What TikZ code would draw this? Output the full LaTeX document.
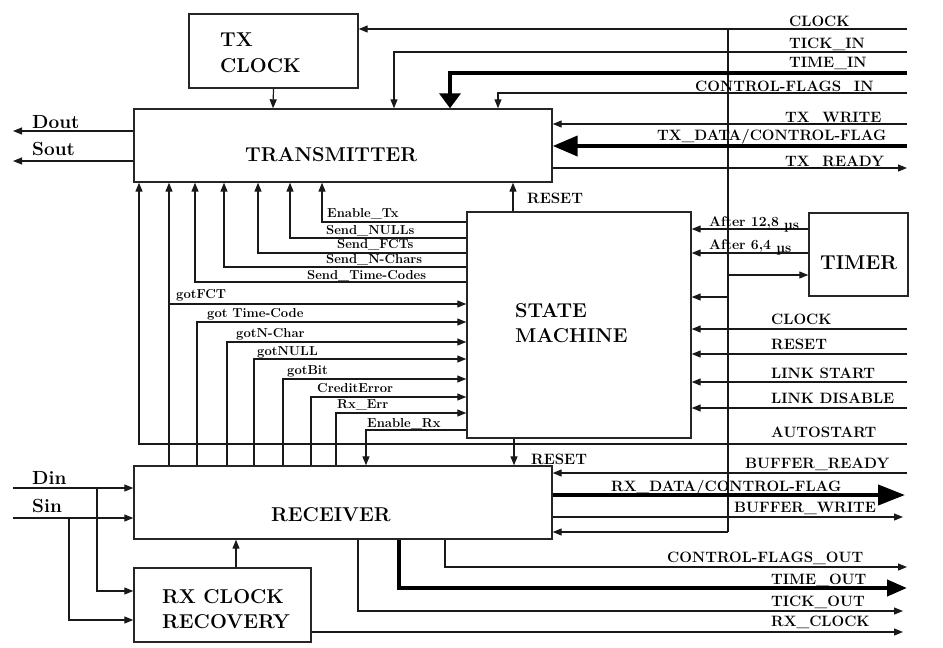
\documentclass[tikz,border=0pt]{standalone}
\usepackage{fontspec}
\usetikzlibrary{arrows.meta}
\begin{document}
\begin{tikzpicture}[x=1pt,y=-1pt,
 box/.style={draw=black!85,line width=1.4pt,inner sep=0pt},
 ln/.style={line width=1.2pt,draw=black!90},
 arr/.style={ln,-{Triangle[length=9pt,width=7pt]}},
 thk/.style={line width=4pt,draw=black,-{Triangle[length=#1]}},
 thk/.default={20pt,width=20pt},
 bigt/.style={font=\fontsize{20}{22}\selectfont\bfseries,anchor=base west,inner sep=0pt},
 sig/.style={font=\fontsize{15}{17}\selectfont\bfseries,anchor=base west,inner sep=0pt},
 sml/.style={font=\fontsize{13}{15}\selectfont\bfseries,anchor=base west,inner sep=0pt},
 tmr/.style={font=\fontsize{14}{16}\selectfont\bfseries,anchor=base west,inner sep=0pt},
 iol/.style={font=\fontsize{19}{21}\selectfont\bfseries,anchor=base west,inner sep=0pt},
]
\useasboundingbox[fill=white] (0,0) rectangle (943,648);

% boxes
\node[box,minimum width=169pt,minimum height=74pt] (txclk) at (273.5,51) {};
\node[box,minimum width=418pt,minimum height=73pt] (tx) at (343,145.5) {};
\node[box,minimum width=224pt,minimum height=226pt] (sm) at (579,325) {};
\node[box,minimum width=99pt,minimum height=83pt] (timer) at (858.5,254.5) {};
\node[box,minimum width=418pt,minimum height=73pt] (rx) at (343,502.5) {};
\node[box,minimum width=177pt,minimum height=74pt] (rxclk) at (222.5,605) {};

% box texts
\node[bigt] (tTX) at (220,46) {TX};
\node[bigt] (tTXC) at (220,72) {CLOCK};
\node[bigt] (tTR) at (245,161) {TRANSMITTER};
\node[bigt] (tST) at (515,317) {STATE};
\node[bigt] (tMA) at (515,342) {MACHINE};
\node[bigt] (tTI) at (820,269) {TIMER};
\node[bigt] (tRE) at (271,521) {RECEIVER};
\node[bigt] (tRX1) at (162,603) {RX CLOCK};
\node[bigt] (tRX2) at (162,628) {RECOVERY};

% free ends
\coordinate (clkR) at (907,29);
\coordinate (clkJ) at (728,29);
\coordinate (clkB) at (728,532);
\coordinate (tickR) at (907,52);
\coordinate (timeR) at (907,73);
\coordinate (cfR) at (907,93);
\coordinate (twR) at (907,124);
\coordinate (tdR) at (907,146);
\coordinate (trR) at (907,168);
\coordinate (doutL) at (13,131);
\coordinate (soutL) at (13,161);
\coordinate (autoR) at (907,444);
\coordinate (smclkR) at (907,329);
\coordinate (smrstR) at (907,354);
\coordinate (lsR) at (907,382);
\coordinate (ldR) at (907,408);
\coordinate (brR) at (907,473);
\coordinate (rdR) at (905,495);
\coordinate (bwR) at (903,517);
\coordinate (dinL) at (13,488);
\coordinate (sinL) at (13,518);
\coordinate (cfoR) at (907,567);
\coordinate (toR) at (907,588);
\coordinate (tkoR) at (903,611);
\coordinate (rxcR) at (903,632);

% top inputs
\draw[arr] (clkR) -- (clkR -| txclk.east);
\draw[ln] (clkJ) -- (clkB);
\draw[arr] (728,275) -- (728,275 -| timer.west);
\draw[arr] (728,297) -- (728,297 -| sm.east);
\draw[arr] (clkB) -- (clkB -| rx.east);
\draw[arr] (tickR) -- (394,52) -- (394,0 |- tx.north);
\draw[thk={15pt,width=21pt}] (timeR) -- (450,73) -- (450,0 |- tx.north);
\draw[arr] (cfR) -- (498,93) -- (498,0 |- tx.north);
\draw[arr] (twR) -- (twR -| tx.east);
\draw[thk={25pt,width=20pt}] (tdR) -- (tdR -| tx.east);
\draw[arr] (trR -| tx.east) -- (trR);
\draw[arr] (txclk.south) -- (273,0 |- tx.north);

% outputs left
\draw[arr] (doutL -| tx.west) -- (doutL);
\draw[arr] (soutL -| tx.west) -- (soutL);
\node[iol] (lDout) at (32,128) {Dout};
\node[iol] (lSout) at (32,155) {Sout};

% transmitter bottom
\draw[arr] (autoR) -- (139,444) -- (139,0 |- tx.south);
\draw[arr] (169,0 |- rx.north) -- (169,0 |- tx.south);
\draw[arr] (169,304) -- (169,304 -| sm.west);
\draw[arr] (sm.west |- 0,282) -- (195,282) -- (195,0 |- tx.south);
\draw[arr] (sm.west |- 0,267) -- (224,267) -- (224,0 |- tx.south);
\draw[arr] (sm.west |- 0,253) -- (258,253) -- (258,0 |- tx.south);
\draw[arr] (sm.west |- 0,238) -- (290,238) -- (290,0 |- tx.south);
\draw[arr] (sm.west |- 0,222) -- (322,222) -- (322,0 |- tx.south);
\draw[arr] (513,0 |- sm.north) -- (513,0 |- tx.south);

% receiver to state machine
\draw[arr] (197,0 |- rx.north) -- (197,322) -- (197,322 -| sm.west);
\draw[arr] (227,0 |- rx.north) -- (227,342) -- (227,342 -| sm.west);
\draw[arr] (254,0 |- rx.north) -- (254,359) -- (254,359 -| sm.west);
\draw[arr] (283,0 |- rx.north) -- (283,379) -- (283,379 -| sm.west);
\draw[arr] (311,0 |- rx.north) -- (311,397) -- (311,397 -| sm.west);
\draw[arr] (336,0 |- rx.north) -- (336,413) -- (336,413 -| sm.west);
\draw[arr] (sm.west |- 0,430) -- (366,430) -- (366,0 |- rx.north);
\draw[arr] (514,0 |- sm.south) -- (514,0 |- rx.north);

% timer
\draw[arr] (timer.west |- 0,229) -- (sm.east |- 0,229);
\draw[arr] (timer.west |- 0,253) -- (sm.east |- 0,253);

% state machine right inputs
\draw[arr] (smclkR) -- (smclkR -| sm.east);
\draw[arr] (smrstR) -- (smrstR -| sm.east);
\draw[arr] (lsR) -- (lsR -| sm.east);
\draw[arr] (ldR) -- (ldR -| sm.east);

% receiver right
\draw[arr] (brR) -- (brR -| rx.east);
\draw[thk={27pt,width=20pt}] (rdR -| rx.east) -- (rdR);
\draw[arr] (bwR -| rx.east) -- (bwR);

% receiver inputs
\draw[arr] (dinL) -- (dinL -| rx.west);
\draw[arr] (sinL) -- (sinL -| rx.west);
\draw[arr] (97,488) -- (97,591) -- (97,591 -| rxclk.west);
\draw[arr] (69,518) -- (69,620) -- (69,620 -| rxclk.west);
\draw[arr] (236,0 |- rxclk.north) -- (236,0 |- rx.south);
\node[iol] (lDin) at (32,484) {Din};
\node[iol] (lSin) at (32,512) {Sin};

% receiver outputs
\draw[arr] (445,0 |- rx.south) -- (445,567) -- (cfoR);
\draw[thk={20pt,width=16pt}] (399,0 |- rx.south) -- (399,588) -- (toR);
\draw[arr] (358,0 |- rx.south) -- (358,611) -- (tkoR);
\draw[arr] (rxclk.east |- rxcR) -- (rxcR);

% signal labels
\node[sig] (lCLK) at (789,26) {CLOCK};
\node[sig] (lTICK) at (789,48) {TICK\_IN};
\node[sig] (lTIME) at (789,67) {TIME\_IN};
\node[sig] (lCF) at (695,91) {CONTROL-FLAGS\_IN};
\node[sig] (lTW) at (785,122) {TX\_WRITE};
\node[sig] (lTD) at (657,140) {TX\_DATA/CONTROL-FLAG};
\node[sig] (lTR) at (785,166) {TX\_READY};
\node[sig] (lRS1) at (527,203) {RESET};
\node[tmr] (lA12) at (709,226) {After 12,8 \raisebox{-3pt}{µs}};
\node[tmr] (lA64) at (709,249) {After 6,4 \raisebox{-3pt}{µs}};
\node[sig] (lCLK2) at (771,324) {CLOCK};
\node[sig] (lRST) at (771,349) {RESET};
\node[sig] (lLS) at (771,378) {LINK START};
\node[sig] (lLD) at (771,403) {LINK DISABLE};
\node[sig] (lAU) at (771,437) {AUTOSTART};
\node[sig] (lRS2) at (531,464) {RESET};
\node[sig] (lBR) at (745,468) {BUFFER\_READY};
\node[sig] (lRD) at (611,491) {RX\_DATA/CONTROL-FLAG};
\node[sig] (lBW) at (734,512) {BUFFER\_WRITE};
\node[sig] (lCFO) at (667,562) {CONTROL-FLAGS\_OUT};
\node[sig] (lTO) at (771,584) {TIME\_OUT};
\node[sig] (lTKO) at (771,606) {TICK\_OUT};
\node[sig] (lRXC) at (771,626) {RX\_CLOCK};

% state machine signal labels
\node[sml] (lETX) at (327,217) {Enable\_Tx};
\node[sml] (lSN) at (326,234) {Send\_NULLs};
\node[sml] (lSF) at (337,248) {Send\_FCTs};
\node[sml] (lSNC) at (326,263) {Send\_N-Chars};
\node[sml] (lSTC) at (307,279) {Send\_Time-Codes};
\node[sml] (lGF) at (176,298) {gotFCT};
\node[sml] (lGTC) at (207,317) {got Time-Code};
\node[sml] (lGNC) at (236,337) {gotN-Char};
\node[sml] (lGN) at (257,355) {gotNULL};
\node[sml] (lGB) at (287,374) {gotBit};
\node[sml] (lCE) at (317,392) {CreditError};
\node[sml] (lRE) at (337,408) {Rx\_Err};
\node[sml] (lERX) at (367,427) {Enable\_Rx};
\end{tikzpicture}
\end{document}
